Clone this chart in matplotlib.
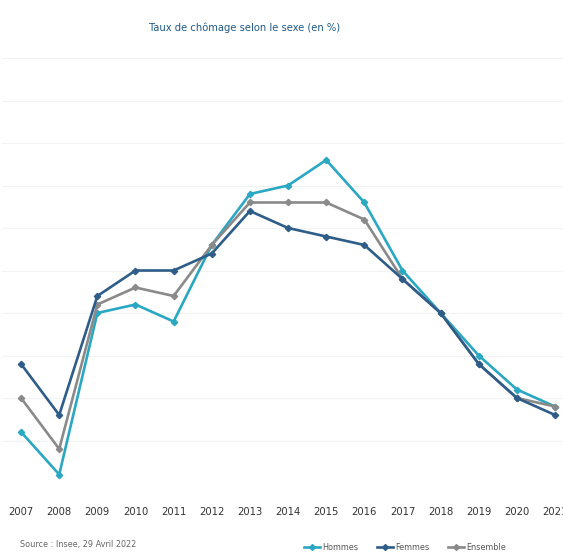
import matplotlib
matplotlib.use("Agg")
import matplotlib.pyplot as plt
from matplotlib.lines import Line2D

# Taux de chômage annuel (en %) par sexe, Insee
annees = list(range(2007, 2022))
hommes = [7.6, 7.1, 9.0, 9.1, 8.9, 9.8, 10.4, 10.5, 10.8, 10.3, 9.5, 9.0, 8.5, 8.1, 7.9]
femmes = [8.4, 7.8, 9.2, 9.5, 9.5, 9.7, 10.2, 10.0, 9.9, 9.8, 9.4, 9.0, 8.4, 8.0, 7.8]
ensemble = [8.0, 7.4, 9.1, 9.3, 9.2, 9.8, 10.3, 10.3, 10.3, 10.1, 9.4, 9.0, 8.4, 8.0, 7.9]

C_HOM = "#2aa7c2"
C_FEM = "#2d5d88"
C_ENS = "#8a8a8a"
FONT = dict(family="DejaVu Sans", stretch="condensed")

W, H = 563, 556
fig = plt.figure(figsize=(W / 100, H / 100), dpi=100)

# axes run slightly past the right edge, as in the original layout
x0, x1 = 2006.5, 2021.5
left_px, step_px = 2, 38.14
ax = fig.add_axes([left_px / W, (H - 483) / H, (x1 - x0) * step_px / W, (483 - 58) / H])
ax.set_xlim(x0, x1)
ax.set_ylim(7.0, 12.0)

for y in [7.5 + 0.5 * i for i in range(10)]:
    ax.axhline(y, color="#f3f3f3", lw=0.8, zorder=0)

series = [(hommes, C_HOM, "Hommes"), (ensemble, C_ENS, "Ensemble"), (femmes, C_FEM, "Femmes")]
for vals, col, lab in series:
    ax.plot(annees, vals, color=col, lw=1.9, marker="D", ms=3.2, label=lab, zorder=3)

ax.set_xticks(annees)
ax.set_xticklabels([str(a) for a in annees], fontsize=8, color="#333333", **FONT)
ax.tick_params(axis="x", length=0, pad=17)
ax.set_yticks([])
for s in ax.spines.values():
    s.set_visible(False)

fig.text(245 / W, 1 - 28 / H, "Taux de chômage selon le sexe (en %)", ha="center", va="center",
         fontsize=8, color="#1f5a87", **FONT)
fig.text(20 / W, 1 - 545 / H, "Source : Insee, 29 Avril 2022", ha="left", va="center",
         fontsize=6.5, color="#666666", **FONT)

handles = [Line2D([], [], color=c, lw=1.9, marker="D", ms=3) for c in (C_HOM, C_FEM, C_ENS)]
fig.legend(handles, ["Hommes", "Femmes", "Ensemble"], loc="center", ncol=3,
           bbox_to_anchor=(405 / W, 1 - 548 / H), frameon=False,
           prop={"size": 6.5, **FONT}, handlelength=1.8, handletextpad=0.3,
           columnspacing=2.0, labelcolor="#555555")

fig.savefig("out.png", dpi=100, facecolor="white")
